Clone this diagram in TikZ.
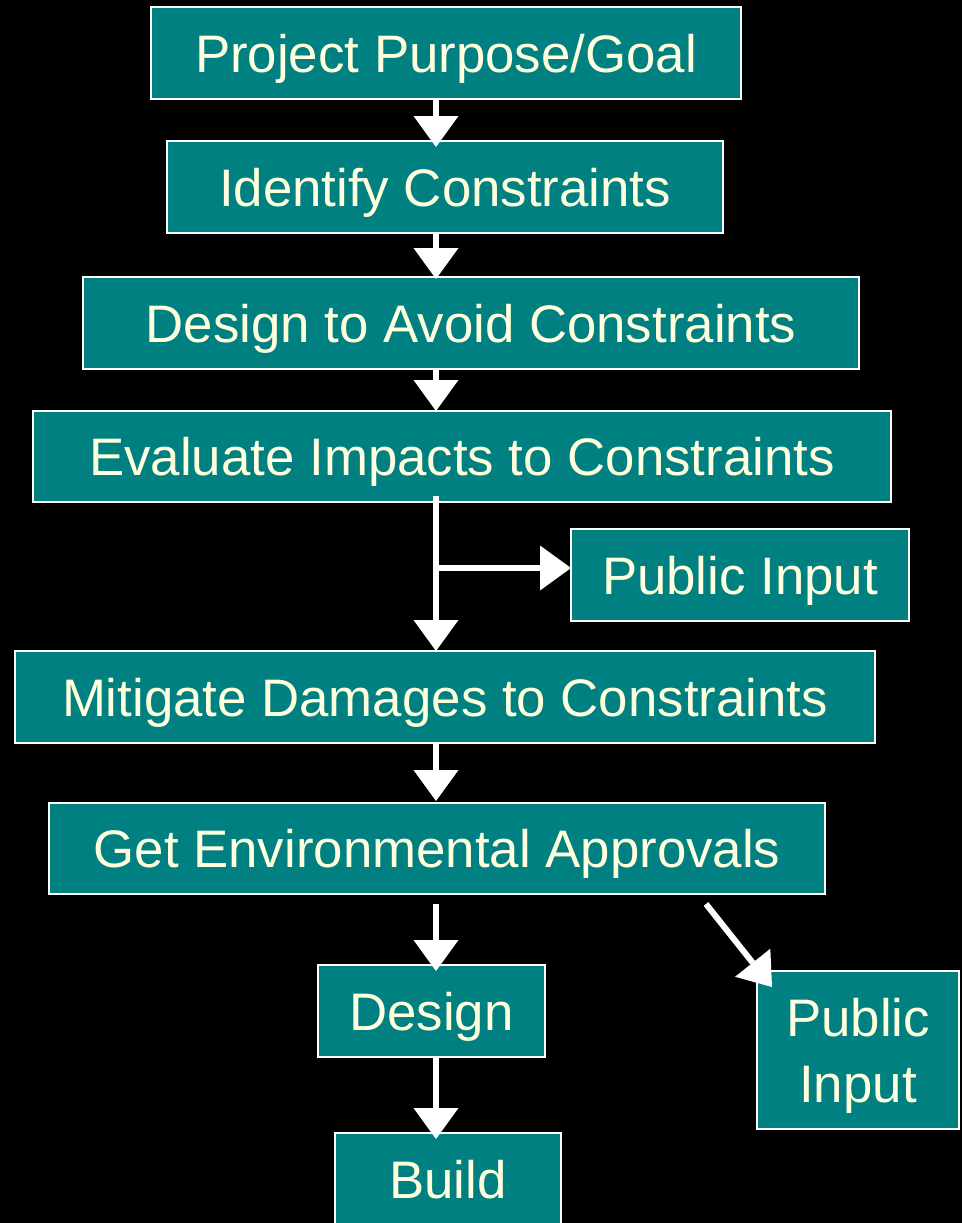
\documentclass[tikz,border=0pt]{standalone}
\usepackage{fontspec}
\setmainfont{Liberation Sans}
\usetikzlibrary{arrows.meta}
\definecolor{boxteal}{RGB}{0,128,128}
\definecolor{boxtext}{RGB}{255,255,222}
\begin{document}
\begin{tikzpicture}[x=1bp,y=-1bp,
  stage/.style={draw=white, line width=2bp, fill=boxteal, text=boxtext,
    font=\fontsize{53}{66}\selectfont, inner sep=0pt,
    minimum height=92bp, text height=38bp, text depth=0bp},
  flow/.style={draw=white, line width=6bp,
    -{Triangle[width=45bp,length=31bp,line width=0pt]}}
]
% page background
\fill[black] (0,0) rectangle (962,1223);
\useasboundingbox (0,0) rectangle (962,1223);
\clip (0,0) rectangle (962,1223);

% process boxes
\node[stage, minimum width=590bp] (goal)      at (446,53)    {Project Purpose/Goal};
\node[stage, minimum width=556bp] (ident)     at (445,187)   {Identify Constraints};
\node[stage, minimum width=776bp] (avoid)     at (471,323)   {Design to Avoid Constraints};
\node[stage, minimum width=858bp, minimum height=91bp] (impacts) at (462,456.5) {Evaluate Impacts to Constraints};
\node[stage, minimum width=338bp] (input1)    at (740,575)   {Public Input};
\node[stage, minimum width=860bp] (mitigate)  at (445,697)   {Mitigate Damages to Constraints};
\node[stage, minimum width=776bp, minimum height=91bp] (approvals) at (437,848.5) {Get Environmental Approvals};
\node[stage, minimum width=227bp] (design)    at (431.5,1011) {Design};
\node[stage, minimum width=202bp, minimum height=158bp, align=center,
      text height=104bp, text depth=0bp] (input2) at (858,1050) {Public\\Input};
\node[stage, minimum width=226bp] (build)     at (448,1179)  {Build};

% main flow line
\coordinate (spine) at (436,0);
\draw[flow] ([yshift=2bp]goal.south -| spine)      -- ([yshift=-7bp]ident.north -| spine);
\draw[flow] ([yshift=2bp]ident.south -| spine)     -- ([yshift=-3bp]avoid.north -| spine);
\draw[flow] ([yshift=1bp]avoid.south -| spine)     -- ([yshift=-1bp]impacts.north -| spine);
\draw[flow] ([yshift=7bp]impacts.south -| spine)   -- ([yshift=-1bp]mitigate.north -| spine);
\draw[flow] ([yshift=7bp]input1.west -| spine)     -- ([xshift=1bp,yshift=7bp]input1.west);
\draw[flow] (mitigate.south -| spine)              -- ([yshift=1bp]approvals.north -| spine);
\draw[flow] ([yshift=-9bp]approvals.south -| spine) -- ([yshift=-7bp]design.north -| spine);
\draw[flow] ([yshift=2bp]design.south -| spine)    -- ([yshift=-7bp]build.north -| spine);
\draw[flow] ([xshift=-120bp,yshift=-9bp]approvals.south east) -- ([xshift=16bp,yshift=-17bp]input2.north west);
\end{tikzpicture}
\end{document}
